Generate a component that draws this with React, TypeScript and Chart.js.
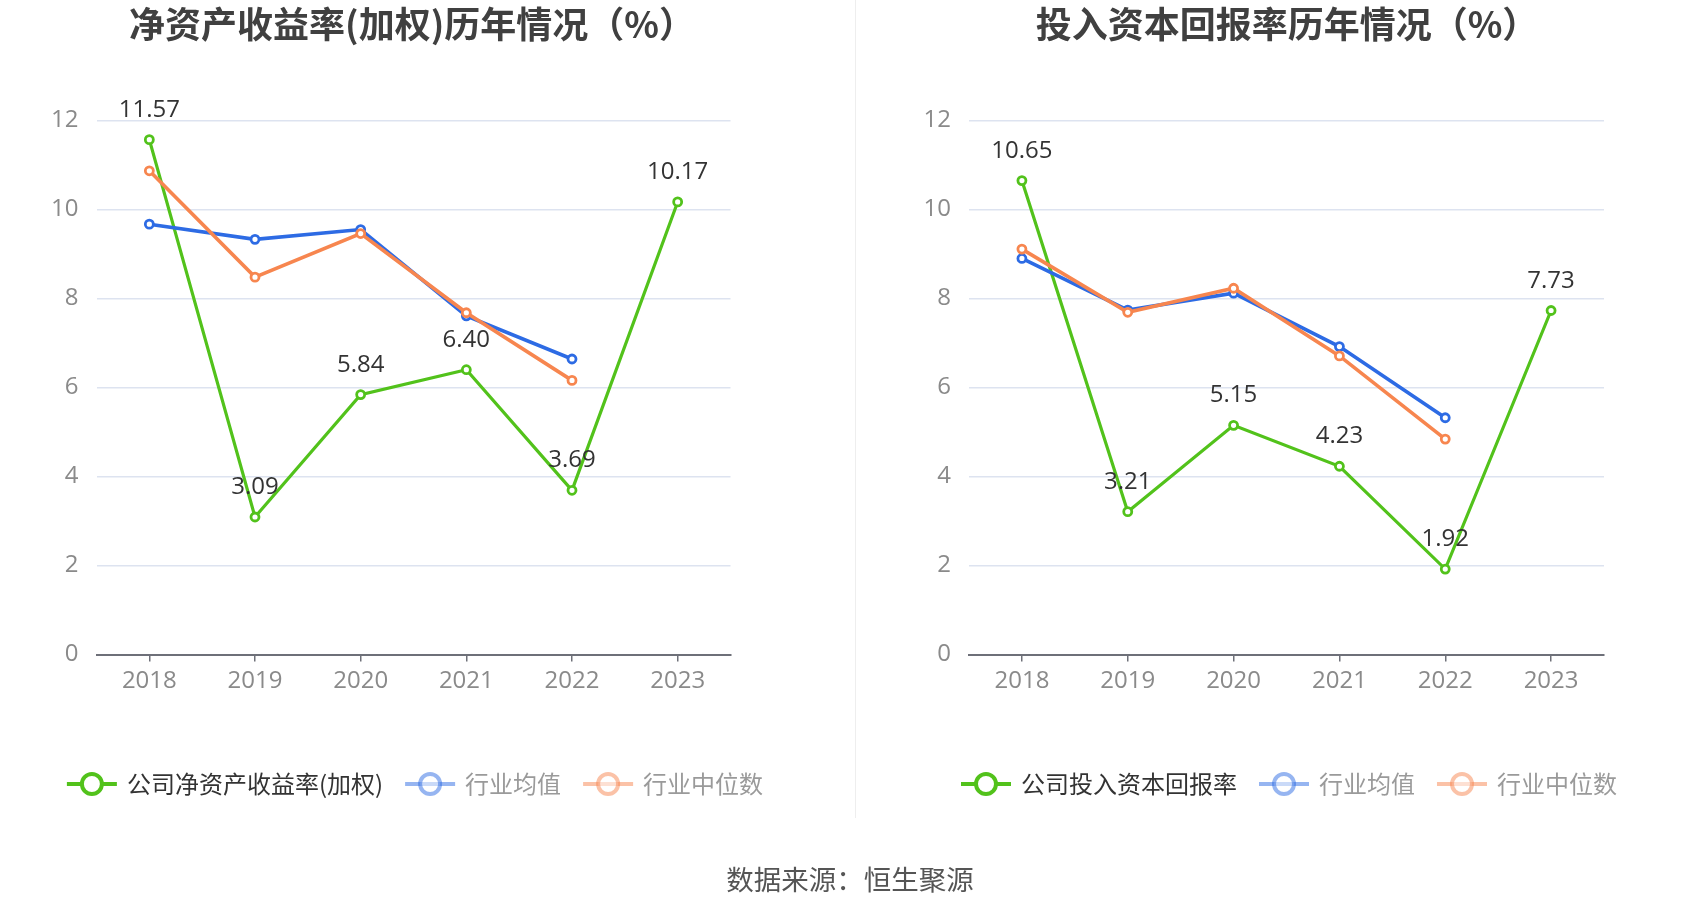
import React, { useEffect, useRef } from "react";
import { Chart, registerables } from "chart.js";

Chart.register(...registerables);

// ---------------- data ----------------
const years = ["2018", "2019", "2020", "2021", "2022", "2023"];

const roeCompany = [11.57, 3.09, 5.84, 6.4, 3.69, 10.17];
const roeIndustryMean = [9.67, 9.33, 9.55, 7.61, 6.64, null];
const roeIndustryMedian = [10.87, 8.48, 9.46, 7.68, 6.16, null];

const roicCompany = [10.65, 3.21, 5.15, 4.23, 1.92, 7.73];
const roicIndustryMean = [8.9, 7.74, 8.12, 6.92, 5.32, null];
const roicIndustryMedian = [9.11, 7.69, 8.23, 6.71, 4.84, null];

const roeTitle = "净资产收益率(加权)历年情况（%）";
const roicTitle = "投入资本回报率历年情况（%）";
const roeLegend = ["公司净资产收益率(加权)", "行业均值", "行业中位数"];
const roicLegend = ["公司投入资本回报率", "行业均值", "行业中位数"];
const sourceText = "数据来源：恒生聚源";

const yMin = 0;
const yMax = 12;
const yStep = 2;

// ---------------- style ----------------
const GREEN = "#52C21B";
const BLUE = "#2D6BE4";
const ORANGE = "#F7864F";
const NUM_FONT = "'Open Sans', 'Noto Sans CJK SC', sans-serif";
const CJK_FONT = "'Noto Sans CJK SC', 'Open Sans', sans-serif";

type Layout = {
  areaLeft: number;
  areaRight: number;
  titleX: number;
  legendX: number;
};

type Props = {
  title: string;
  legend: string[];
  company: (number | null)[];
  mean: (number | null)[];
  median: (number | null)[];
  left: number;
  layout: Layout;
};

const W = 850;
const H = 918;
const AREA_TOP = 120.5;
const AREA_BOTTOM = 654.5;
const Y_AXIS_W = 60;
const X_AXIS_H = 50;

function LineChart({ title, legend, company, mean, median, left, layout }: Props) {
  const ref = useRef<HTMLCanvasElement | null>(null);

  useEffect(() => {
    const canvas = ref.current;
    if (!canvas) return;
    const colors = [GREEN, BLUE, ORANGE];

    const decor = {
      id: "decor",
      afterDatasetsDraw(chart: any) {
        const ctx = chart.ctx;
        const meta = chart.getDatasetMeta(0);
        ctx.save();
        ctx.font = `24px ${NUM_FONT}`;
        ctx.fillStyle = "#333333";
        ctx.textAlign = "center";
        ctx.textBaseline = "alphabetic";
        meta.data.forEach((pt: any, i: number) => {
          const v = company[i];
          if (v == null) return;
          ctx.fillText(v.toFixed(2), pt.x, pt.y - 23);
        });
        ctx.restore();
      },
      afterDraw(chart: any) {
        const ctx = chart.ctx;
        ctx.save();
        // title
        ctx.font = `bold 36px ${CJK_FONT}`;
        ctx.fillStyle = "#404040";
        ctx.textAlign = "center";
        ctx.textBaseline = "middle";
        ctx.fillText(title, layout.titleX, 24);

        // legend
        const ly = 784;
        ctx.font = `24px ${CJK_FONT}`;
        const symW = 50;
        const gapText = 10;
        const gapItem = 22;
        const widths = legend.map((t) => symW + gapText + ctx.measureText(t).width);
        const total = widths.reduce((a, b) => a + b, 0) + gapItem * (legend.length - 1);
        let x = layout.legendX - total / 2;
        legend.forEach((label, i) => {
          ctx.save();
          ctx.globalAlpha = i === 0 ? 1 : 0.5;
          ctx.strokeStyle = colors[i];
          ctx.lineWidth = 4;
          ctx.beginPath();
          ctx.moveTo(x, ly);
          ctx.lineTo(x + symW, ly);
          ctx.stroke();
          ctx.beginPath();
          ctx.arc(x + symW / 2, ly, 10, 0, Math.PI * 2);
          ctx.fillStyle = "#ffffff";
          ctx.fill();
          ctx.stroke();
          ctx.restore();
          ctx.fillStyle = i === 0 ? "#333333" : "#9a9a9a";
          ctx.textAlign = "left";
          ctx.textBaseline = "middle";
          ctx.fillText(label, x + symW + gapText, ly);
          x += widths[i] + gapItem;
        });
        ctx.restore();
      },
    };

    const mk = (label: string, data: (number | null)[], color: string, width: number, order: number) => ({
      label,
      data,
      borderColor: color,
      backgroundColor: color,
      borderWidth: width,
      pointRadius: 4,
      pointHoverRadius: 4,
      pointBorderWidth: 2.8,
      pointBorderColor: color,
      pointBackgroundColor: "#ffffff",
      tension: 0,
      spanGaps: false,
      order,
    });

    const chart = new Chart(canvas, {
      type: "line",
      data: {
        labels: years,
        datasets: [
          mk(legend[0], company, GREEN, 3.2, 3),
          mk(legend[1], mean, BLUE, 3.6, 2),
          mk(legend[2], median, ORANGE, 3.6, 1),
        ],
      },
      options: {
        responsive: false,
        animation: false,
        events: [],
        layout: {
          padding: {
            left: layout.areaLeft - Y_AXIS_W,
            right: W - layout.areaRight,
            top: AREA_TOP,
            bottom: H - AREA_BOTTOM - X_AXIS_H,
          },
        },
        plugins: {
          legend: { display: false },
          title: { display: false },
          tooltip: { enabled: false },
        },
        scales: {
          x: {
            type: "category",
            offset: true,
            afterFit: (s: any) => {
              s.height = X_AXIS_H;
            },
            grid: {
              display: true,
              drawOnChartArea: false,
              drawTicks: true,
              tickLength: 7,
              color: "#6E7079",
              lineWidth: 1.5,
              offset: false,
            },
            border: { display: true, color: "#6E7079", width: 2 },
            ticks: {
              color: "#8a8a8a",
              font: { size: 24, family: NUM_FONT },
              padding: 5,
              maxRotation: 0,
              autoSkip: false,
            },
          },
          y: {
            min: yMin,
            max: yMax,
            afterFit: (s: any) => {
              s.width = Y_AXIS_W;
            },
            grid: {
              color: "#DDE3F0",
              lineWidth: 1.6,
              drawTicks: false,
            },
            border: { display: false },
            ticks: {
              stepSize: yStep,
              color: "#8a8a8a",
              font: { size: 24, family: NUM_FONT },
              padding: 18,
            },
          },
        },
      },
      plugins: [decor],
    } as any);

    return () => chart.destroy();
  }, [title, legend, company, mean, median, layout]);

  return (
    <canvas
      ref={ref}
      width={W}
      height={H}
      style={{ position: "absolute", left, top: 0, width: W, height: H }}
    />
  );
}

const leftLayout: Layout = { areaLeft: 96.5, areaRight: 730.5, titleX: 412, legendX: 415 };
const rightLayout: Layout = { areaLeft: 119, areaRight: 754, titleX: 437, legendX: 439 };

export default function App() {
  useEffect(() => {
    document.body.style.margin = "0";
  }, []);
  return (
    <div
      style={{
        position: "fixed",
        left: 0,
        top: 0,
        width: 1700,
        height: 918,
        background: "#ffffff",
        overflow: "hidden",
      }}
    >
      <LineChart
        title={roeTitle}
        legend={roeLegend}
        company={roeCompany}
        mean={roeIndustryMean}
        median={roeIndustryMedian}
        left={0}
        layout={leftLayout}
      />
      <LineChart
        title={roicTitle}
        legend={roicLegend}
        company={roicCompany}
        mean={roicIndustryMean}
        median={roicIndustryMedian}
        left={850}
        layout={rightLayout}
      />
      <div
        style={{
          position: "absolute",
          left: 855,
          top: 0,
          width: 1,
          height: 818,
          background: "#EEEEEE",
        }}
      />
      <div
        style={{
          position: "absolute",
          left: 0,
          top: 860,
          width: 1700,
          textAlign: "center",
          fontFamily: CJK_FONT,
          fontSize: 27.5,
          lineHeight: "36px",
          color: "#555555",
        }}
      >
        {sourceText}
      </div>
    </div>
  );
}
